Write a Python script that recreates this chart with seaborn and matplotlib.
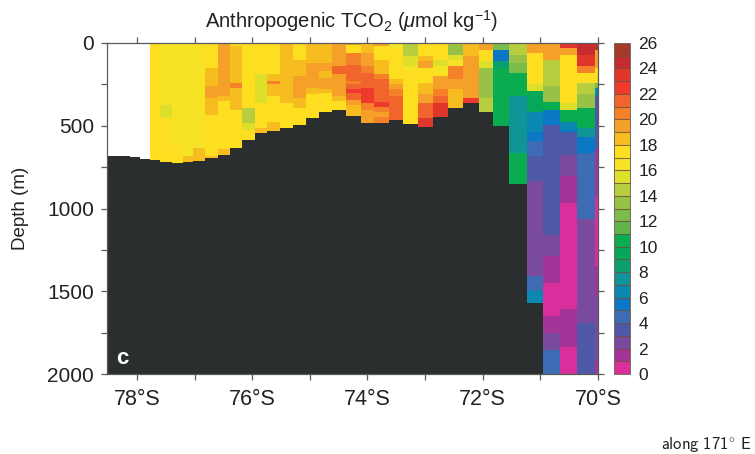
import numpy as np
import matplotlib
matplotlib.use("Agg")
import matplotlib.pyplot as plt
from matplotlib.colors import ListedColormap
import seaborn as sns

TITLE = r'Anthropogenic TCO$_{\mathregular{2}}$ ($\mu$mol kg$^{\mathregular{-1}}$)'
Y_LABEL = 'Depth (m)'
PANEL = 'c'
NOTE = r'$\mathsf{along\ 171^{\circ}\ E}$'
LAT_TICKS = [78, 77, 76, 75, 74, 73, 72, 71, 70]
DEPTH_TICKS = [0, 250, 500, 750, 1000, 1250, 1500, 1750, 2000]
CBAR_TICKS = list(range(0, 27, 2))

# Colour classes, bottom (0) to top (25)
CLASS_COLORS = ['#D92F9C', '#A53499', '#7A4A9E', '#4F58A6', '#3D6CB4', '#0A78C4', '#0A88B0',
                '#0F9498', '#0A9F6E', '#05A858', '#0AAC50', '#5FB54A', '#7CBC4A', '#98C245',
                '#B7CF3F', '#DEDF2A', '#F7E326', '#FDDE20', '#F7BD20', '#F5A028', '#F58129',
                '#F1652C', '#EE3A2C', '#E0352B', '#C52C2F', '#A33B2C']
SEABED = '#2A2E2F'

# Cast boundaries, south to north (degrees S)
LAT_EDGES = [78.52, 78.32, 78.13, 77.93, 77.78, 77.59, 77.40, 77.20, 77.01, 76.81, 76.60, 76.38,
             76.18, 75.95, 75.74, 75.51, 75.29, 75.07, 74.83, 74.61, 74.38, 74.13, 73.87, 73.62,
             73.38, 73.13, 72.86, 72.60, 72.34, 72.07, 71.81, 71.54, 71.24, 70.95, 70.66, 70.36,
             70.07, 70.00]
# Seabed depth of each cast (m)
BOTTOM = [679, 685, 691, 699, 705, 721, 725, 721, 711, 695, 675, 635, 584, 544, 528, 514, 496,
          455, 417, 405, 439, 484, 484, 464, 490, 504, 449, 389, 367, 417, 502, 852, 1569,
          2000, 2000, 2000, 2000]

# For each cast: lower depth of each layer, and the colour class of that layer
LAYER_DEPTHS = [
    [], [], [], [],
    [705],
    [377, 457, 721],
    [620, 725],
    [685, 721],
    [635, 711],
    [150, 262, 332, 433, 680, 695],
    [320, 352, 640, 675],
    [20, 240, 270, 403, 635],
    [393, 483, 524, 584],
    [190, 363, 514, 544],
    [190, 232, 252, 318, 473, 528],
    [15, 360, 514],
    [100, 200, 330, 393, 496],
    [120, 272, 312, 455],
    [120, 170, 212, 282, 302, 417],
    [140, 190, 322, 352, 405],
    [10, 60, 130, 232, 252, 282, 302, 343, 373, 439],
    [60, 140, 180, 270, 363, 403, 484],
    [20, 100, 190, 222, 353, 383, 413, 443, 484],
    [30, 222, 252, 282, 322, 464],
    [80, 140, 170, 490],
    [80, 110, 150, 242, 312, 363, 453, 504],
    [100, 140, 180, 200, 282, 322, 363, 449],
    [10, 70, 100, 140, 222, 282, 389],
    [80, 333, 367],
    [40, 110, 150, 333, 417],
    [40, 110, 150, 502],
    [75, 120, 180, 322, 665, 852],
    [60, 252, 292, 413, 534, 595, 685, 836, 1410, 1500, 1569],
    [100, 260, 353, 403, 493, 725, 1158, 1290, 1450, 1650, 1752, 1853, 2000],
    [30, 70, 363, 403, 473, 523, 534, 675, 806, 966, 1610, 1833, 2000],
    [70, 140, 180, 240, 312, 393, 514, 564, 665, 1067, 1690, 2000],
    [40, 150, 240, 272, 322, 640, 930, 1350, 1530, 1922, 2000],
]
LAYER_CLASSES = [
    [], [], [], [],
    [17],
    [16, 15, 17],
    [16, 17],
    [16, 18],
    [16, 18],
    [17, 18, 19, 18, 17, 18],
    [19, 18, 17, 18],
    [17, 18, 20, 18, 17],
    [17, 14, 15, 17],
    [17, 15, 17, 18],
    [17, 18, 20, 18, 17, 18],
    [18, 18, 17],
    [17, 18, 19, 18, 17],
    [18, 19, 18, 17],
    [18, 19, 18, 19, 18, 17],
    [19, 21, 19, 18, 17],
    [19, 17, 20, 21, 20, 21, 22, 21, 19, 18],
    [18, 19, 20, 21, 22, 20, 19],
    [19, 17, 18, 20, 21, 22, 20, 19, 20],
    [16, 17, 18, 19, 20, 21],
    [14, 15, 16, 17],
    [17, 18, 19, 17, 18, 19, 21, 23],
    [17, 15, 16, 17, 19, 20, 21, 23],
    [14, 13, 15, 16, 20, 19, 18],
    [18, 19, 22],
    [19, 17, 15, 13, 14],
    [12, 5, 8, 10],
    [14, 13, 12, 10, 7, 10],
    [19, 17, 15, 9, 6, 5, 4, 3, 2, 4, 6],
    [19, 14, 13, 10, 5, 3, 3, 2, 1, 0, 1, 2, 4],
    [23, 19, 17, 15, 10, 6, 5, 3, 2, 1, 0, 1, 0],
    [24, 23, 20, 17, 14, 13, 10, 7, 5, 4, 2, 3],
    [24, 19, 17, 12, 6, 3, 1, 0, 1, 2, 1],
]

# Regular raster that sns.heatmap draws the casts on
LAT_STEP = 0.02
DEPTH_STEP = 5
lat_left = LAT_EDGES[0]
n_lat = int(round((LAT_EDGES[0] - LAT_EDGES[-1]) / LAT_STEP))
n_depth = int(2000 / DEPTH_STEP)
field = np.full((n_depth, n_lat), np.nan)
seabed = np.zeros((n_depth, n_lat), dtype=bool)


def lat_pos(lat):
    return (lat_left - np.asarray(lat, float)) / LAT_STEP


def depth_pos(depth):
    return np.asarray(depth, float) / DEPTH_STEP


for i, bottom in enumerate(BOTTOM):
    c0 = int(round(lat_pos(LAT_EDGES[i])))
    c1 = int(round(lat_pos(LAT_EDGES[i + 1])))
    seabed[int(round(depth_pos(bottom))):, c0:c1] = True
    top = 0
    for low, cls in zip(LAYER_DEPTHS[i], LAYER_CLASSES[i], strict=True):
        r0, r1 = int(round(depth_pos(top))), int(round(depth_pos(low)))
        field[r0:r1, c0:c1] = cls + 0.5
        top = low

sns.set_style('white')
plt.rcParams['font.family'] = ['Liberation Sans', 'DejaVu Sans']
plt.rcParams['mathtext.fontset'] = 'custom'
plt.rcParams['mathtext.rm'] = 'Liberation Sans'
plt.rcParams['mathtext.it'] = 'Liberation Sans:italic'
plt.rcParams['mathtext.bf'] = 'Liberation Sans:bold'
plt.rcParams['mathtext.sf'] = 'cmss10'
plt.rcParams['mathtext.fallback'] = 'cm'

W, H = 755, 454
fig = plt.figure(figsize=(W / 100, H / 100), dpi=100)
ax = fig.add_axes([107 / W, 1 - 374 / H, (598 - 107) / W, (374 - 43) / H])
cax = fig.add_axes([614 / W, 1 - 374 / H, 16 / W, (374 - 43) / H])

cmap = ListedColormap(CLASS_COLORS)
sns.heatmap(field, ax=ax, cmap=cmap, vmin=0, vmax=26, cbar_ax=cax, xticklabels=False,
            yticklabels=False,
            cbar_kws={'boundaries': np.arange(0, 27), 'ticks': CBAR_TICKS, 'drawedges': True})
sns.heatmap(np.ones_like(field), mask=~seabed, ax=ax, cmap=ListedColormap([SEABED]), cbar=False,
            xticklabels=False, yticklabels=False)

AXIS_COLOR = '#5a5a5a'
TEXT_COLOR = '#222222'
for s in ax.spines.values():
    s.set_visible(True)
    s.set_color(AXIS_COLOR)
    s.set_linewidth(0.9)

ax.set_xticks(lat_pos(LAT_TICKS))
ax.set_xticklabels([f'{v}°S' if v % 2 == 0 else '' for v in LAT_TICKS], rotation=0)
ax.set_yticks(depth_pos(DEPTH_TICKS))
ax.set_yticklabels([str(v) if v % 500 == 0 else '' for v in DEPTH_TICKS], rotation=0)
ax.tick_params(axis='both', which='major', direction='out', length=4.5, width=0.9,
               color=AXIS_COLOR, labelcolor=TEXT_COLOR,
               top=True, right=True, bottom=True, left=True)
ax.tick_params(axis='x', labelsize=15.5, pad=6.5)
ax.tick_params(axis='y', labelsize=15, pad=5)
ax.set_ylabel(Y_LABEL, fontsize=13.5, color=TEXT_COLOR, labelpad=13)
fig.text(352 / W, 1 - 21 / H, TITLE, ha='center', va='center', fontsize=14.5, color=TEXT_COLOR)
ax.text(lat_pos(78.25), depth_pos(1905), PANEL, color='white', fontsize=16, fontweight='bold',
        ha='center', va='center')
fig.text(706 / W, 1 - 445 / H, NOTE, ha='center', va='center', fontsize=12, color=TEXT_COLOR)

cb = ax.collections[0].colorbar
cb.dividers.set_color('#6a5040')
cb.dividers.set_linewidth(0.8)
cb.dividers.set_alpha(0.8)
cb.outline.set_edgecolor('#7a6a5a')
cb.outline.set_linewidth(0.7)
cax.tick_params(length=0, labelsize=12.5, labelcolor=TEXT_COLOR, pad=6)

fig.savefig('out.png', dpi=100, facecolor='white')
